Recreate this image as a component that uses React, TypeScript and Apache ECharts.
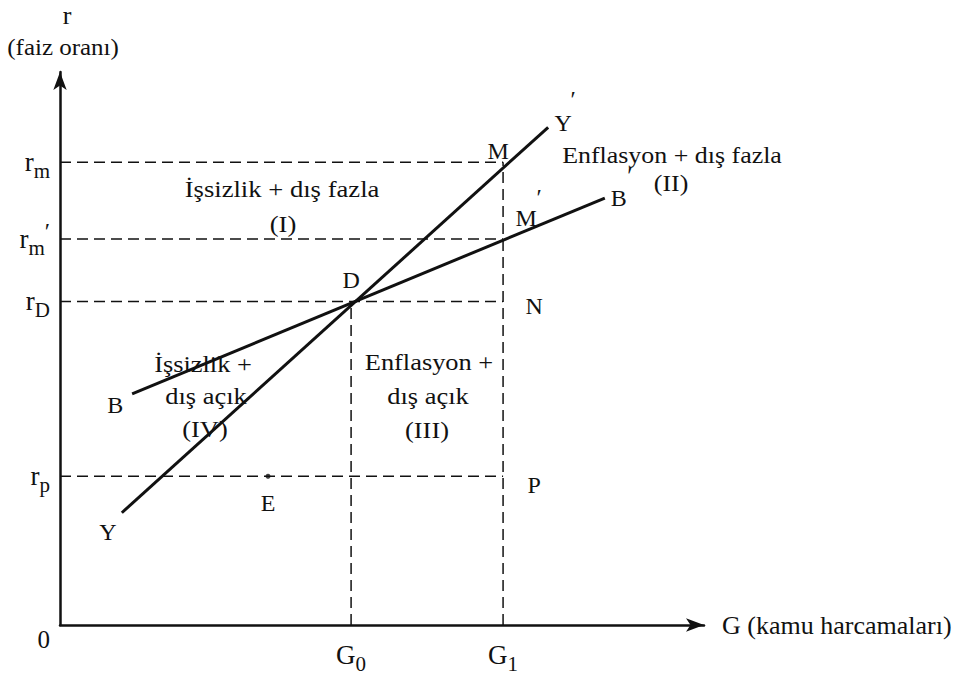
import React, { useEffect, useRef } from 'react';
import * as echarts from 'echarts';

// ---- data (abstract units: x 0..10, y 0..10) ----
const X_MAX = 10;
const Y_MAX = 10;
const rNames = ['p', 'D', 'm′', 'm'];
const rValues = [2.69, 5.85, 6.98, 8.37];
const gNames = ['0', '1'];
const gValues = [4.52, 6.88];
const lineYY = [[0.96, 2.03], [7.58, 9.0]];
const lineBB = [[1.12, 4.18], [8.46, 7.72]];
const pointE = [3.23, 2.69];

const FONT = 'Liberation Serif';
const INK = '#111';

export default function App() {
  const ref = useRef<HTMLDivElement>(null);
  useEffect(() => {
    const chart = echarts.init(ref.current!, null, { renderer: 'svg' });
    const [rp, rD, rm2, rm] = rValues;
    const [G0, G1] = gValues;
    const dash = { color: INK, width: 1.5, type: [11, 6] as any };
    const seg = (a: number[], b: number[], style: any) => ({
      type: 'line', data: [a, b], showSymbol: false, symbol: 'none', silent: true,
      lineStyle: style, z: 2,
    });
    const series: any[] = [];
    rValues.forEach((r) => series.push(seg([0, r], [G1, r], dash)));
    series.push(seg([G0, 0], [G0, rD], dash));
    series.push(seg([G1, 0], [G1, rm], dash));
    const solid = { color: INK, width: 3 };
    series.push(seg(lineYY[0], lineYY[1], solid));
    series.push(seg(lineBB[0], lineBB[1], solid));
    series.push({
      type: 'scatter', data: [pointE], symbolSize: 5, itemStyle: { color: INK }, z: 3,
    });

    const yLabel = (v: number) => {
      if (v === 0) return '{z|0}';
      const i = rValues.indexOf(v);
      if (i < 0) return '';
      const n = rNames[i];
      if (n.endsWith('′')) return `{r|r}{s|${n.slice(0, -1)}}{p|′}`;
      return `{r|r}{s|${n}}`;
    };
    const xLabel = (v: number) => {
      const i = gValues.indexOf(v);
      if (i < 0) return '';
      return `{g|G}{s|${gNames[i]}}`;
    };

    chart.setOption({
      animation: false,
      backgroundColor: '#fff',
      textStyle: { fontFamily: FONT },
      grid: { left: 60, right: 251, top: 72, bottom: 45 },
      xAxis: {
        type: 'value', min: 0, max: X_MAX,
        name: 'G (kamu harcamaları)',
        nameLocation: 'end', nameGap: 18,
        nameTextStyle: { fontFamily: FONT, fontSize: 26, color: INK, align: 'left', verticalAlign: 'middle' },
        axisLine: { show: true, symbol: ['none', 'arrow'], symbolSize: [10, 18], lineStyle: { color: INK, width: 2.5 } },
        axisTick: { show: false },
        splitLine: { show: false },
        axisLabel: {
          customValues: gValues, formatter: xLabel, margin: 10, color: INK,
          rich: {
            g: { fontFamily: FONT, fontSize: 27, color: INK },
            s: { fontFamily: FONT, fontSize: 21, color: INK, padding: [18, 0, 0, 0] },
          },
        },
      },
      yAxis: {
        type: 'value', min: 0, max: Y_MAX,
        axisLine: { show: true, symbol: ['none', 'arrow'], symbolSize: [10, 18], lineStyle: { color: INK, width: 2.5 } },
        axisTick: { show: false },
        splitLine: { show: false },
        axisLabel: {
          customValues: [0, ...rValues], formatter: yLabel, margin: 10, color: INK,
          rich: {
            r: { fontFamily: FONT, fontSize: 27, color: INK },
            s: { fontFamily: FONT, fontSize: 21, color: INK, padding: [18, 0, 0, 0] },
            p: { fontFamily: FONT, fontSize: 24, color: INK, padding: [0, 0, 16, 0] },
            z: { fontFamily: FONT, fontSize: 25, color: INK, padding: [28, 0, 0, 0] },
          },
        },
      },
      series,
    });

    const px = (p: number[]) => chart.convertToPixel({ gridIndex: 0 }, p) as number[];
    const txt = (text: string, x: number, y: number, size = 24, sx = 1) => ({
      type: 'text', x, y, scaleX: sx, silent: true,
      style: {
        text, fontFamily: FONT, fontSize: size, fill: INK,
        align: 'center', verticalAlign: 'middle', textAlign: 'center', textVerticalAlign: 'middle',
      },
    });
    const at = (p: number[], dx: number, dy: number, text: string, size = 24) => {
      const q = px(p);
      return txt(text, q[0] + dx, q[1] + dy, size);
    };
    const graphic: any[] = [
      at([G1, rm], -5, -11, 'M'),
      at([G1, rm2], 23, -21, 'M'),
      at([G1, rm2], 36, -42, '′', 24),
      at([G0, rD], 0, -21, 'D'),
      at([G1, rD], 31, 5, 'N'),
      at([G1, rp], 31, 9, 'P'),
      at(pointE, 0, 27, 'E'),
      at(lineYY[0], -14, 19, 'Y'),
      at(lineYY[1], 15, -4, 'Y'),
      at(lineYY[1], 25, -28, '′', 24),
      at(lineBB[0], -17, 11, 'B'),
      at(lineBB[1], 14, 0, 'B'),
      at(lineBB[1], 25, -23, '′', 24),
      txt('r', 67, 15, 26),
      txt('(faiz oranı)', 63, 47, 24, 1.04),
      txt('İşsizlik + dış fazla', 282, 188, 24, 1.11),
      txt('(I)', 283, 223, 24, 1.11),
      txt('Enflasyon + dış fazla', 672, 155, 24, 1.08),
      txt('(II)', 671, 183, 24, 1.08),
      txt('Enflasyon +', 429, 362, 24, 1.1),
      txt('dış açık', 428, 396, 24, 1.1),
      txt('(III)', 427, 430, 24, 1.1),
      txt('İşsizlik +', 203, 364, 24, 1.1),
      txt('dış açık', 206, 396, 24, 1.1),
      txt('(IV)', 205, 429, 24, 1.1),
    ];
    chart.setOption({ graphic });
    return () => chart.dispose();
  }, []);
  return (
    <div
      ref={ref}
      style={{ position: 'fixed', left: 0, top: 0, width: 955, height: 674, background: '#fff' }}
    />
  );
}
